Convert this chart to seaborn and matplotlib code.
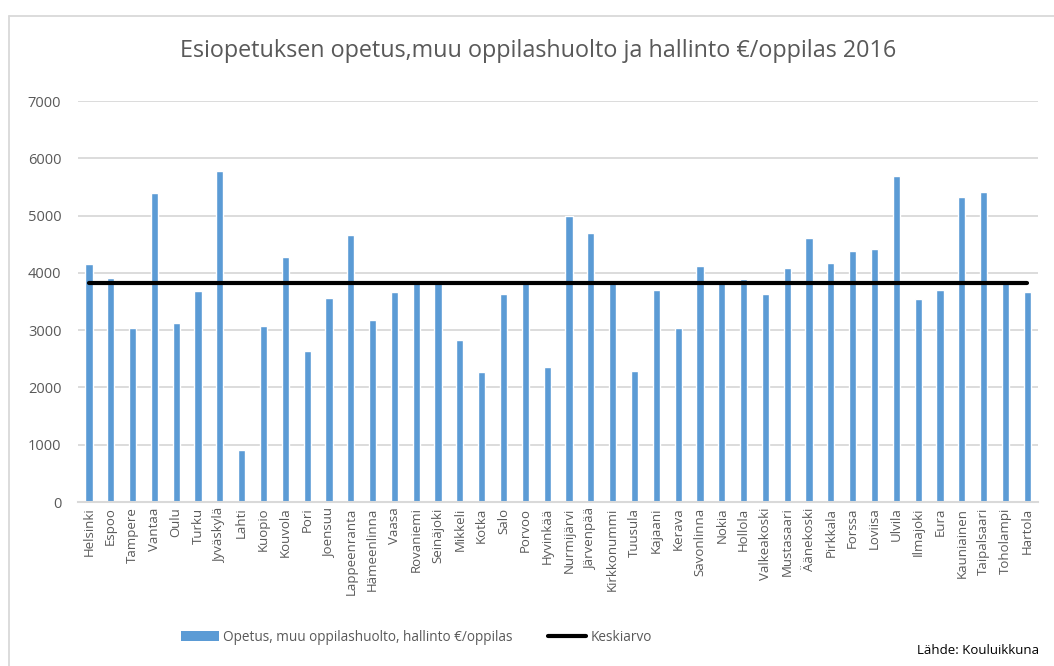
import numpy as np
import pandas as pd
import matplotlib
matplotlib.use('Agg')
import matplotlib.pyplot as plt
from matplotlib.lines import Line2D
from matplotlib.patches import Patch
import seaborn as sns

# Data
kunnat = ['Helsinki', 'Espoo', 'Tampere', 'Vantaa', 'Oulu', 'Turku', 'Jyväskylä', 'Lahti',
          'Kuopio', 'Kouvola', 'Pori', 'Joensuu', 'Lappeenranta', 'Hämeenlinna', 'Vaasa',
          'Rovaniemi', 'Seinäjoki', 'Mikkeli', 'Kotka', 'Salo', 'Porvoo', 'Hyvinkää',
          'Nurmijärvi', 'Järvenpää', 'Kirkkonummi', 'Tuusula', 'Kajaani', 'Kerava',
          'Savonlinna', 'Nokia', 'Hollola', 'Valkeakoski', 'Mustasaari', 'Äänekoski',
          'Pirkkala', 'Forssa', 'Loviisa', 'Ulvila', 'Ilmajoki', 'Eura', 'Kauniainen',
          'Taipalsaari', 'Toholampi', 'Hartola']
euroa_per_oppilas = [4150, 3910, 3040, 5390, 3130, 3680, 5780, 900,
                     3075, 4280, 2630, 3565, 4660, 3175, 3660,
                     3830, 3830, 2835, 2270, 3635, 3820, 2360,
                     5000, 4700, 3820, 2280, 3710, 3045,
                     4120, 3820, 3885, 3630, 4080, 4615,
                     4165, 4390, 4420, 5695, 3540, 3700, 5330,
                     5405, 3820, 3670]
keskiarvo = 3830

df = pd.DataFrame({'kunta': kunnat, 'arvo': euroa_per_oppilas})

sns.set_style('white')
plt.rcParams['font.family'] = ['Open Sans', 'DejaVu Sans']

blue = '#5b9bd5'
grey_txt = '#595959'
grid_c = '#d9d9d9'

fig = plt.figure(figsize=(10.54, 6.66), dpi=100)
ax = fig.add_axes([0.074, 0.2462, 0.911, 0.6021])

sns.barplot(data=df, x='kunta', y='arvo', color=blue, saturation=1, width=0.33, ax=ax, zorder=2)
ax.plot(np.arange(len(kunnat)), [keskiarvo] * len(kunnat), color='black', lw=3, zorder=3)

ax.set_ylim(0, 7000)
ax.set_xlim(-0.5, len(kunnat) - 0.5)
ax.set_yticks(range(0, 7001, 1000))
ax.yaxis.grid(True, color=grid_c, lw=1.3)
ax.set_axisbelow(True)
for s in ['top', 'right', 'left']:
    ax.spines[s].set_visible(False)
ax.spines['bottom'].set_color(grid_c)
ax.spines['bottom'].set_linewidth(1.5)
ax.set_xlabel('')
ax.set_ylabel('')
ax.tick_params(axis='x', rotation=90, labelsize=9.5, colors=grey_txt, length=0, pad=4)
ax.tick_params(axis='y', labelsize=10.5, colors=grey_txt, length=0, pad=12)

fig.text(0.511, 0.924, 'Esiopetuksen opetus,muu oppilashuolto ja hallinto €/oppilas 2016',
         ha='center', va='center', fontsize=16.8, color=grey_txt)

handles = [Patch(facecolor=blue, edgecolor='none'), Line2D([], [], color='black', lw=3)]
fig.legend(handles, ['Opetus, muu oppilashuolto, hallinto €/oppilas', 'Keskiarvo'],
           loc='center', bbox_to_anchor=(0.395, 0.043), ncol=2, frameon=False,
           fontsize=9.8, labelcolor=grey_txt,
           handlelength=2.8, handletextpad=0.3, columnspacing=2.6)

fig.text(0.986, 0.013, 'Lähde: Kouluikkuna', ha='right', va='bottom', fontsize=9.5,
         color='black')

# chart frame: only left and top edges are visible in the crop
bx = 8.5 / 1054
by = (666 - 16) / 666
fig.add_artist(Line2D([bx, bx], [0, by], transform=fig.transFigure, color=grid_c, lw=1.3))
fig.add_artist(Line2D([bx, 1], [by, by], transform=fig.transFigure, color=grid_c, lw=1.3))

fig.savefig('out.png', dpi=100)
